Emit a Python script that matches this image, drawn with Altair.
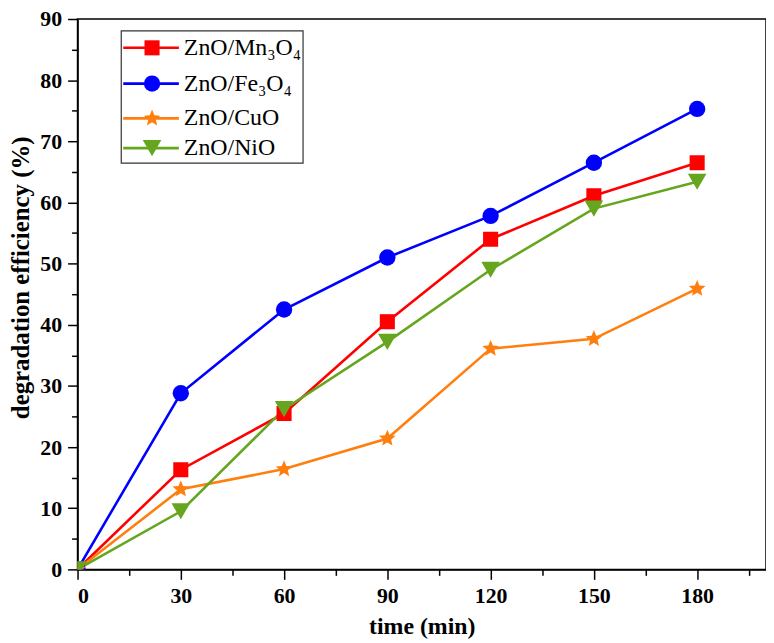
import altair as alt
import pandas as pd

times = [0, 30, 60, 90, 120, 150, 180]
series_names = ["ZnO/Mn₃O₄", "ZnO/Fe₃O₄", "ZnO/CuO", "ZnO/NiO"]
mn3o4 = [0.0, 16.3, 25.5, 40.5, 54.0, 61.1, 66.5]
fe3o4 = [0.0, 28.8, 42.5, 51.0, 57.8, 66.5, 75.3]
cuo = [0.0, 13.1, 16.4, 21.4, 36.1, 37.7, 45.9]
nio = [0.0, 9.5, 26.2, 37.2, 49.0, 59.0, 63.4]
colors = ["#FF0000", "#0000FF", "#FF7F0E", "#66A61E"]
STAR = ("M0,-1L0.265,-0.364L0.951,-0.309L0.428,0.139L0.588,0.809L0,0.45"
        "L-0.588,0.809L-0.428,0.139L-0.951,-0.309L-0.265,-0.364Z")
shapes = ["square", "circle", STAR, "triangle-down"]
x_major = [0, 30, 60, 90, 120, 150, 180]
x_minor = [15, 45, 75, 105, 135, 165, 195]
y_major = [0, 10, 20, 30, 40, 50, 60, 70, 80, 90]
y_minor = [5, 15, 25, 35, 45, 55, 65, 75, 85]

rows = []
for name, vals in zip(series_names, [mn3o4, fe3o4, cuo, nio]):
    for t, v in zip(times, vals):
        rows.append({"time": t, "eff": v, "series": name})
df = pd.DataFrame(rows)
legend_df = pd.DataFrame({"series": series_names})

FONT = "Liberation Serif"
color_scale = alt.Scale(domain=series_names, range=colors)
shape_scale = alt.Scale(domain=series_names, range=shapes)
size_scale = alt.Scale(domain=series_names, range=[230, 350, 1400, 460])
xs = alt.Scale(domain=[0, 200], nice=False)
ys = alt.Scale(domain=[0, 90], nice=False)

lines = alt.Chart(df).mark_line(strokeWidth=2.6, clip=True).encode(
    x=alt.X("time:Q", scale=xs, axis=alt.Axis(
        values=x_major, tickSize=10, title="time (min)", titlePadding=9,
        labelPadding=6, orient="bottom", titleFontSize=24)),
    y=alt.Y("eff:Q", scale=ys, axis=alt.Axis(
        values=y_major, tickSize=10, title="degradation efficiency (%)",
        titlePadding=6, labelPadding=6, orient="left", titleFontSize=25,
        titleY=260)),
    color=alt.Color("series:N", scale=color_scale, legend=None),
    detail="series:N",
)
minor = alt.Chart(df).mark_point(opacity=0).encode(
    x=alt.X("time:Q", scale=xs, axis=alt.Axis(
        values=x_minor, tickSize=6, labels=False, domain=False, title=None, orient="bottom")),
    y=alt.Y("eff:Q", scale=ys, axis=alt.Axis(
        values=y_minor, tickSize=6, labels=False, domain=False, title=None, orient="left")),
)
points = alt.Chart(df).mark_point(filled=True, opacity=1, clip=True).encode(
    x=alt.X("time:Q", scale=xs, axis=None),
    y=alt.Y("eff:Q", scale=ys, axis=None),
    color=alt.Color("series:N", scale=color_scale, legend=None),
    shape=alt.Shape("series:N", scale=shape_scale, legend=None),
    size=alt.Size("series:N", scale=size_scale, legend=None),
)

layers = [lines, minor, points]
box = alt.Chart(legend_df).transform_filter(
    alt.datum.series == series_names[0]
).mark_rect(fill="white", stroke="#333333", strokeWidth=1.2).encode(
    x=alt.value(44), x2=alt.value(227), y=alt.value(12), y2=alt.value(145)
)
layers.append(box)
row_y = [29, 65, 100, 130]
for name, ry in zip(series_names, row_y):
    base = alt.Chart(legend_df).transform_filter(alt.datum.series == name)
    layers.append(base.mark_rule(strokeWidth=2.6).encode(
        x=alt.value(46), x2=alt.value(102), y=alt.value(ry),
        color=alt.Color("series:N", scale=color_scale, legend=None),
    ))
    layers.append(base.mark_point(filled=True, opacity=1).encode(
        x=alt.value(75), y=alt.value(ry),
        color=alt.Color("series:N", scale=color_scale, legend=None),
        shape=alt.Shape("series:N", scale=shape_scale, legend=None),
        size=alt.Size("series:N", scale=size_scale, legend=None),
    ))
    layers.append(base.mark_text(
        align="left", baseline="middle", font=FONT, fontSize=24, color="black"
    ).encode(x=alt.value(107), y=alt.value(ry), text="series:N"))

chart = alt.layer(*layers).resolve_axis(x="independent", y="independent").properties(
    width=693, height=554,
    autosize=alt.AutoSizeParams(type="none"),
    padding={"left": 70, "top": 9, "right": 0, "bottom": 70},
).configure_view(stroke="black", strokeWidth=1.5).configure_axis(
    grid=False,
    domainColor="black", domainWidth=1.5,
    tickColor="black", tickWidth=1.5,
    labelFont=FONT, labelFontWeight="bold", labelFontSize=22, labelColor="black",
    titleFont=FONT, titleFontWeight="bold", titleFontSize=24, titleColor="black",
)

chart.save("out.html", embed_options={"renderer": "svg", "actions": False})
